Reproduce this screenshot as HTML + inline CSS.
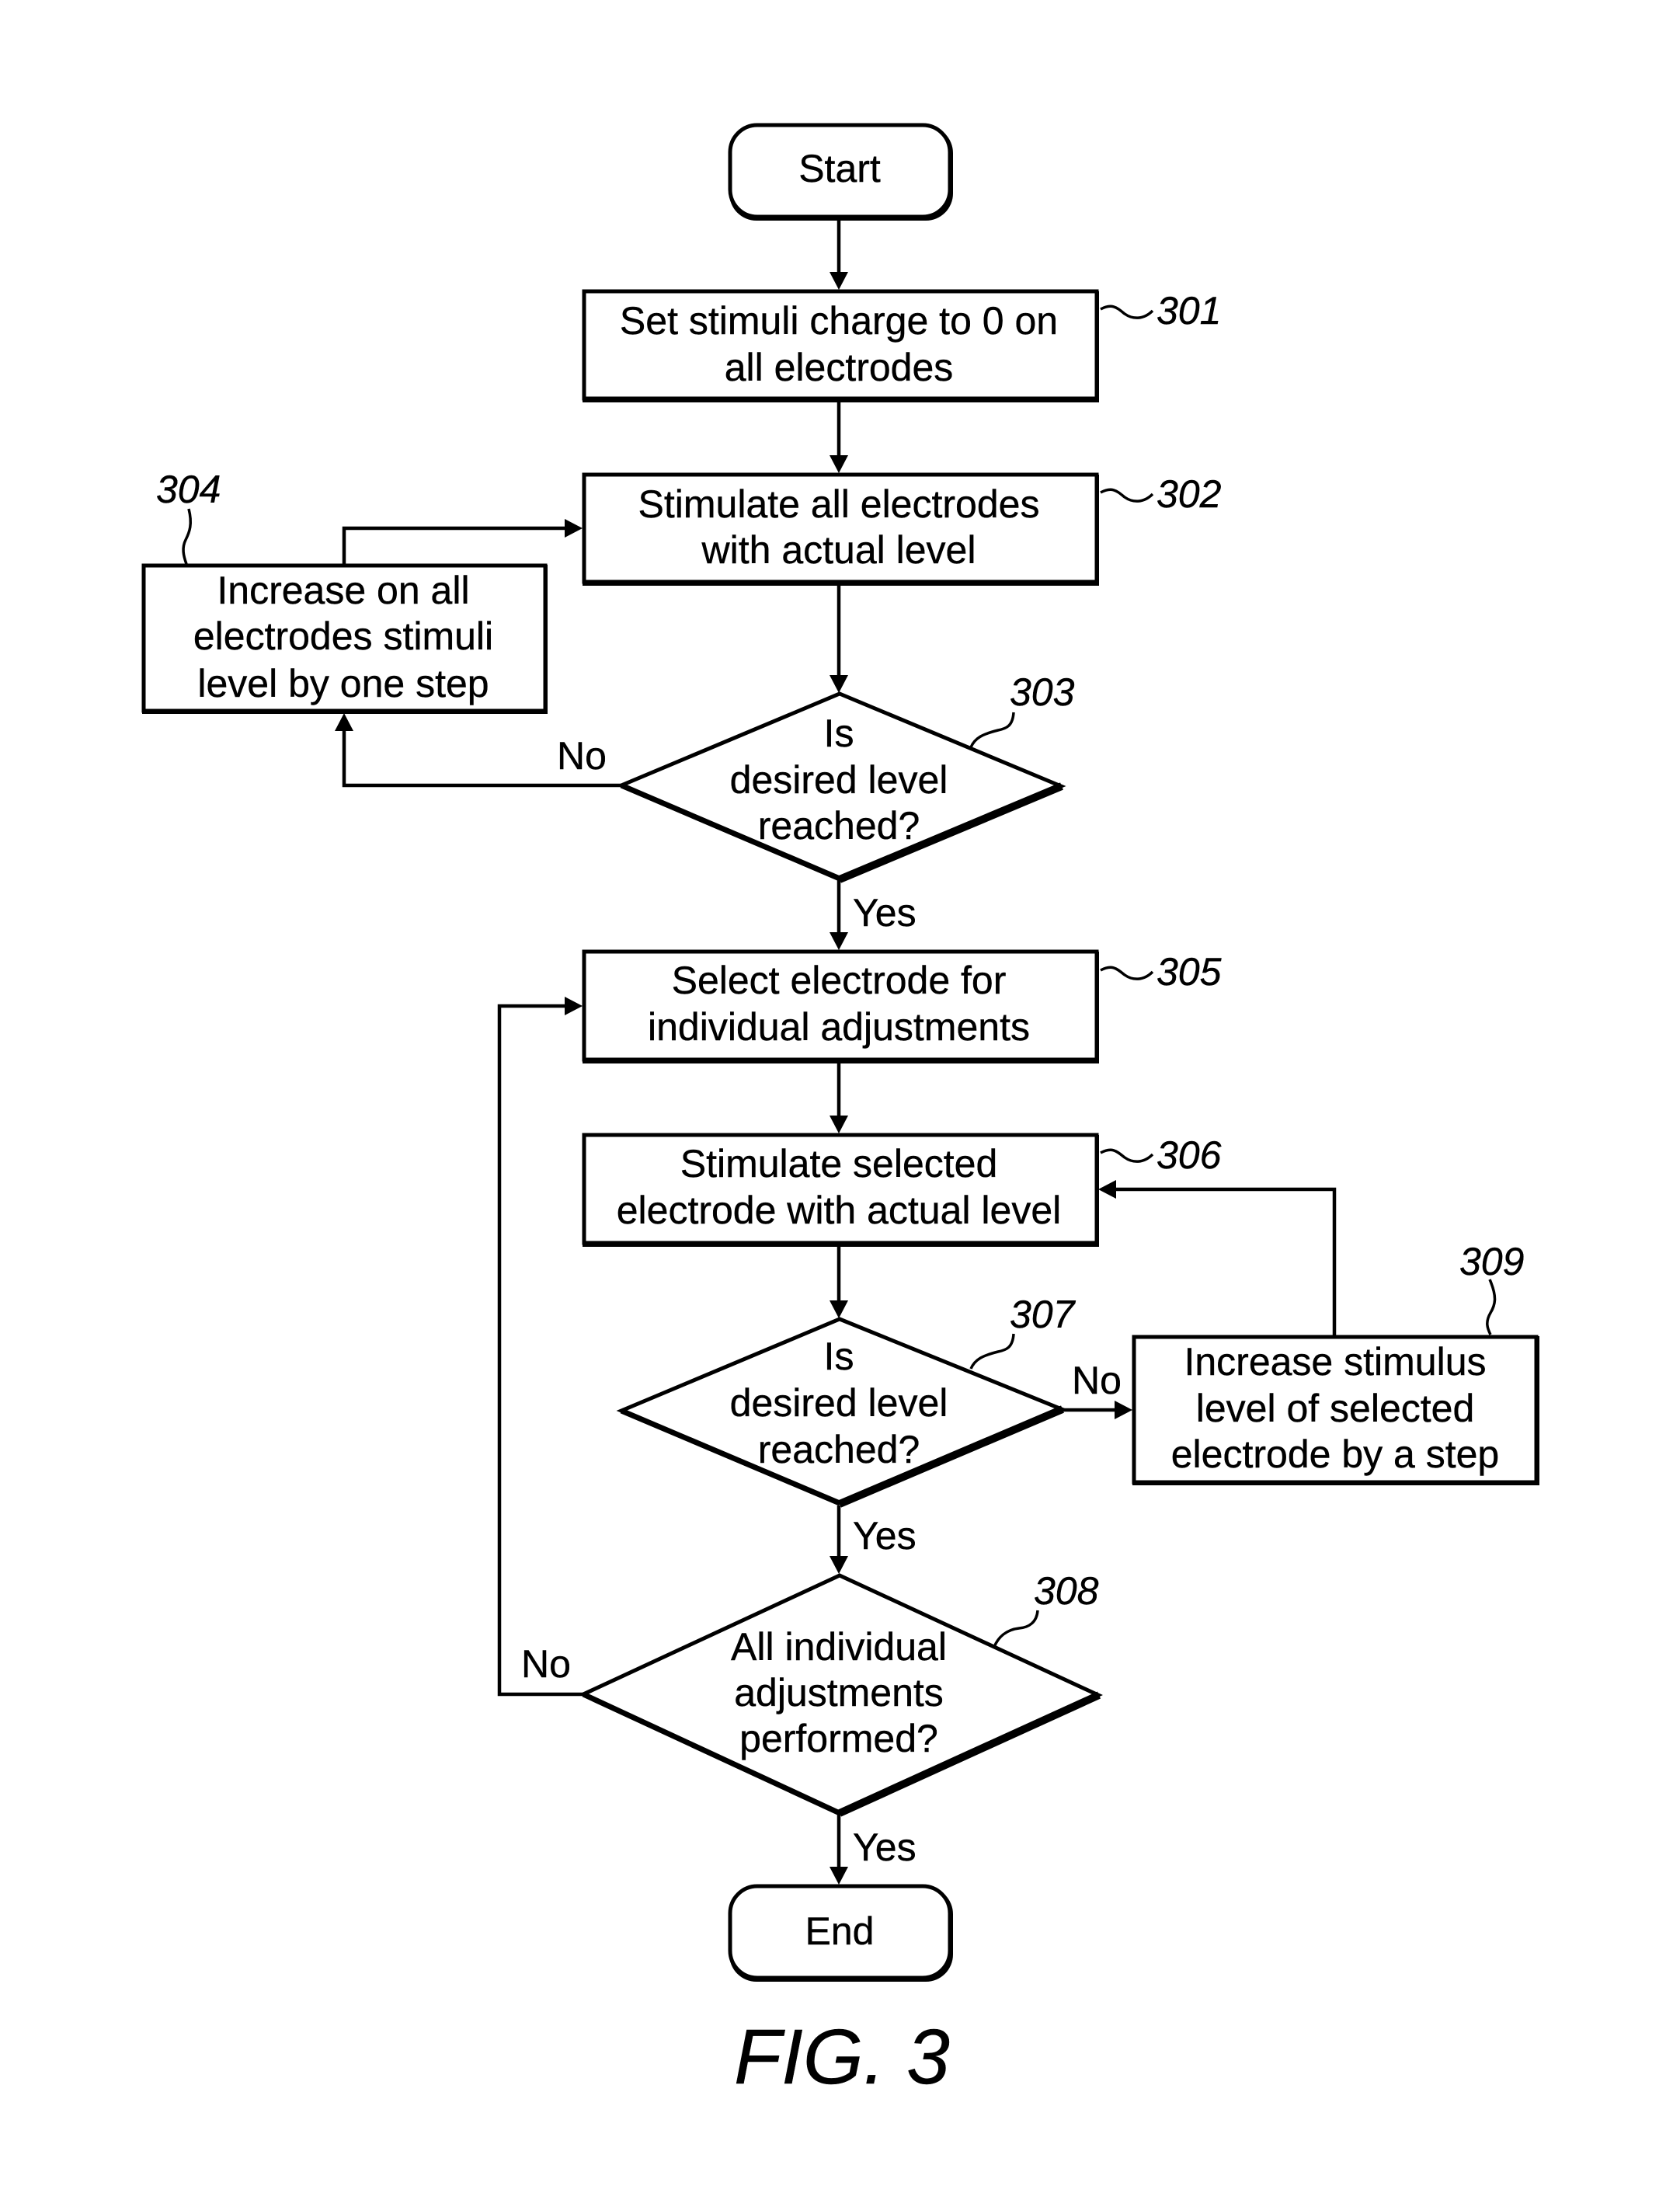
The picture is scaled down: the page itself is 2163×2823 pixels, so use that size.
<!DOCTYPE html>
<html lang="en">
<head>
<meta charset="utf-8">
<title>FIG. 3</title>
<style>
html,body{margin:0;padding:0;background:#fff;width:2163px;height:2823px;overflow:hidden}
svg{display:block}
text{font-family:"Liberation Sans",Arial,sans-serif;fill:#000;stroke:#000;stroke-width:.4}
.t{font-size:50px;text-anchor:middle}
.l{font-size:50px}
.r{font-size:50px;font-style:italic}
.b{fill:#fff;stroke:#000;stroke-width:5}
.s{fill:#000}
.c{fill:none;stroke:#000;stroke-width:4.5}
.q{fill:none;stroke:#000;stroke-width:3.5}
.a{fill:#000}
</style>
</head>
<body>
<svg xmlns="http://www.w3.org/2000/svg" width="2163" height="2823" viewBox="0 0 2163 2823">
<rect width="2163" height="2823" fill="#fff"/>

<!-- connectors -->
<path class="c" d="M1080 281V355"/>
<path class="a" d="M1068 350H1092L1080 373Z"/>
<path class="c" d="M1080 516V592"/>
<path class="a" d="M1068 586H1092L1080 609Z"/>
<path class="c" d="M1080 752V874"/>
<path class="a" d="M1068 869H1092L1080 892Z"/>
<path class="c" d="M1080 1132V1206"/>
<path class="a" d="M1068 1200H1092L1080 1223Z"/>
<path class="c" d="M1080 1367V1442"/>
<path class="a" d="M1068 1436H1092L1080 1459Z"/>
<path class="c" d="M1080 1603V1680"/>
<path class="a" d="M1068 1674H1092L1080 1697Z"/>
<path class="c" d="M1080 1938V2008"/>
<path class="a" d="M1068 2003H1092L1080 2026Z"/>
<path class="c" d="M1080 2334V2409"/>
<path class="a" d="M1068 2403H1092L1080 2426Z"/>
<path class="c" d="M443 726V680H730"/>
<path class="a" d="M727 668V692L750 680Z"/>
<path class="c" d="M800 1011H443V936"/>
<path class="a" d="M431 941H455L443 918Z"/>
<path class="c" d="M750 2181H643V1295H732"/>
<path class="a" d="M727 1283V1307L750 1295Z"/>
<path class="c" d="M1718 1720V1531H1432"/>
<path class="a" d="M1437 1519V1543L1414 1531Z"/>
<path class="c" d="M1367 1815H1440"/>
<path class="a" d="M1435 1803V1827L1458 1815Z"/>

<!-- terminators -->
<rect class="s" x="939" y="162" width="288" height="122" rx="35"/>
<rect class="b" x="940" y="161" width="283" height="118" rx="35"/>
<rect class="s" x="939" y="2429" width="288" height="122" rx="35"/>
<rect class="b" x="940" y="2428" width="283" height="118" rx="35"/>

<!-- process boxes -->
<rect class="s" x="750" y="375" width="665" height="143"/>
<rect class="b" x="752" y="375" width="660" height="138"/>
<rect class="s" x="750" y="611" width="665" height="143"/>
<rect class="b" x="752" y="611" width="660" height="138"/>
<rect class="s" x="183" y="727" width="522" height="192"/>
<rect class="b" x="185" y="728" width="517" height="187"/>
<rect class="s" x="750" y="1225" width="665" height="144"/>
<rect class="b" x="752" y="1225" width="660" height="139"/>
<rect class="s" x="750" y="1461" width="665" height="144"/>
<rect class="b" x="752" y="1461" width="660" height="139"/>
<rect class="s" x="1458" y="1720" width="524" height="192"/>
<rect class="b" x="1460" y="1721" width="518" height="187"/>

<!-- decisions -->
<polygon class="b" points="1081,893 1366,1012 1081,1131 800,1011"/>
<path d="M800 1011L1081 1131" fill="none" stroke="#000" stroke-width="7"/>
<path d="M1081 1132L1367 1012" fill="none" stroke="#000" stroke-width="10"/>
<polygon class="b" points="1081,1698 1367,1814 1081,1935 800,1816"/>
<path d="M800 1816L1081 1935" fill="none" stroke="#000" stroke-width="7"/>
<path d="M1081 1936L1368 1814" fill="none" stroke="#000" stroke-width="10"/>
<polygon class="b" points="1081,2028 1414,2182 1081,2334 751,2181"/>
<path d="M751 2181L1081 2334" fill="none" stroke="#000" stroke-width="7"/>
<path d="M1081 2334L1415 2182" fill="none" stroke="#000" stroke-width="10"/>

<!-- leaders -->
<path class="q" d="M1417 398C1432 390 1438 396 1448 404C1458 411 1472 412 1484 400"/>
<path class="q" d="M1417 634C1432 626 1438 632 1448 640C1458 647 1472 648 1484 636"/>
<path class="q" d="M1417 1249C1432 1241 1438 1247 1448 1255C1458 1262 1472 1263 1484 1251"/>
<path class="q" d="M1417 1484C1432 1476 1438 1482 1448 1490C1458 1497 1472 1498 1484 1486"/>
<path class="q" d="M243 655C248 675 244 685 239 695C234 705 236 715 240 726"/>
<path class="q" d="M1305 917C1304 935 1295 938 1285 940C1265 945 1255 950 1250 962"/>
<path class="q" d="M1305 1717C1304 1735 1295 1738 1285 1740C1265 1745 1255 1750 1250 1762"/>
<path class="q" d="M1918 1647C1928 1670 1925 1680 1919 1690C1912 1702 1915 1710 1919 1718"/>
<path class="q" d="M1336 2073C1335 2088 1325 2095 1312 2096C1295 2098 1285 2108 1280 2120"/>

<!-- node text -->
<text class="t" x="1081" y="234">Start</text>
<text class="t" x="1080" y="430">Set stimuli charge to 0 on</text>
<text class="t" x="1080" y="490">all electrodes</text>
<text class="t" x="1080" y="666">Stimulate all electrodes</text>
<text class="t" x="1080" y="725">with actual level</text>
<text class="t" x="442" y="777">Increase on all</text>
<text class="t" x="442" y="836">electrodes stimuli</text>
<text class="t" x="442" y="897">level by one step</text>
<text class="t" x="1080" y="961">Is</text>
<text class="t" x="1080" y="1021">desired level</text>
<text class="t" x="1080" y="1080">reached?</text>
<text class="t" x="1080" y="1279">Select electrode for</text>
<text class="t" x="1080" y="1339">individual adjustments</text>
<text class="t" x="1080" y="1515">Stimulate selected</text>
<text class="t" x="1080" y="1575">electrode with actual level</text>
<text class="t" x="1080" y="1763">Is</text>
<text class="t" x="1080" y="1823">desired level</text>
<text class="t" x="1080" y="1883">reached?</text>
<text class="t" x="1719" y="1770">Increase stimulus</text>
<text class="t" x="1719" y="1830">level of selected</text>
<text class="t" x="1719" y="1889">electrode by a step</text>
<text class="t" x="1080" y="2137">All individual</text>
<text class="t" x="1080" y="2196">adjustments</text>
<text class="t" x="1080" y="2255">performed?</text>
<text class="t" x="1081" y="2503">End</text>

<!-- connector labels -->
<text class="l" x="717" y="990">No</text>
<text class="l" x="1098" y="1192">Yes</text>
<text class="l" x="1380" y="1794">No</text>
<text class="l" x="1098" y="1994">Yes</text>
<text class="l" x="671" y="2159">No</text>
<text class="l" x="1098" y="2395">Yes</text>

<!-- reference numerals -->
<text class="r" x="1489" y="417">301</text>
<text class="r" x="1489" y="653">302</text>
<text class="r" x="201" y="647">304</text>
<text class="r" x="1300" y="908">303</text>
<text class="r" x="1489" y="1268">305</text>
<text class="r" x="1489" y="1504">306</text>
<text class="r" x="1300" y="1709">307</text>
<text class="r" x="1879" y="1641">309</text>
<text class="r" x="1331" y="2065">308</text>

<text x="945" y="2682" style="font-size:100px;font-style:italic">FIG. 3</text>
</svg>
</body>
</html>
